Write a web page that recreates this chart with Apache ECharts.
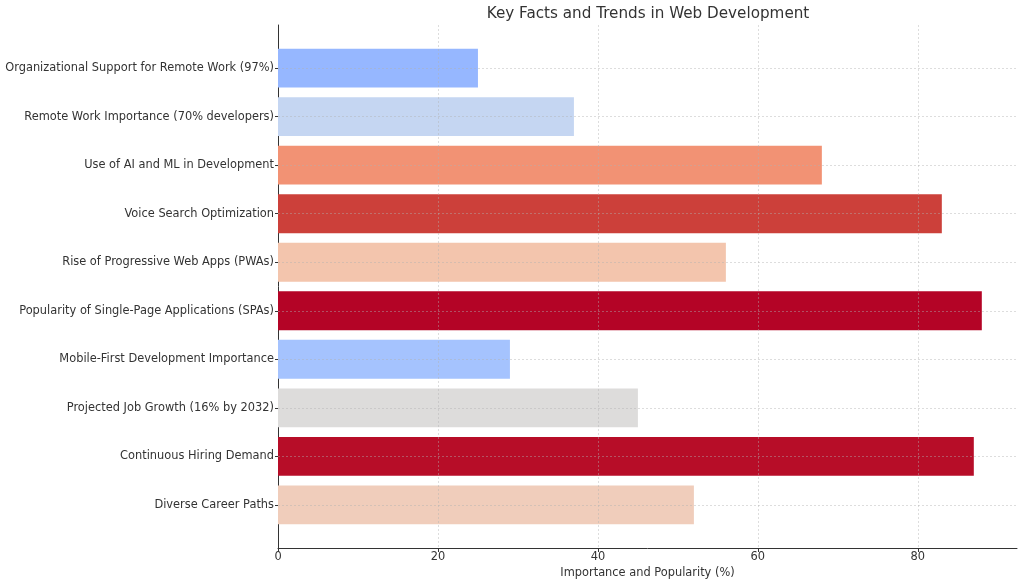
<!DOCTYPE html>
<html>
<head>
<meta charset="utf-8">
<script src="https://cdn.jsdelivr.net/npm/echarts@6/dist/echarts.min.js"></script>
<style>
  html, body { margin: 0; padding: 0; background: #ffffff; }
  #chart { width: 1024px; height: 585px; }
</style>
</head>
<body>
<div id="chart"></div>
<script>
const categories = [
  "Organizational Support for Remote Work (97%)",
  "Remote Work Importance (70% developers)",
  "Use of AI and ML in Development",
  "Voice Search Optimization",
  "Rise of Progressive Web Apps (PWAs)",
  "Popularity of Single-Page Applications (SPAs)",
  "Mobile-First Development Importance",
  "Projected Job Growth (16% by 2032)",
  "Continuous Hiring Demand",
  "Diverse Career Paths"
];
const values = [25, 37, 68, 83, 56, 88, 29, 45, 87, 52];
const barColors = [
  "#96b7ff", "#c5d6f2", "#f29274", "#cc403a", "#f3c5ad",
  "#b40426", "#a5c3fe", "#dddcdb", "#b70d28", "#f0cdbb"
];
const xTicks = [0, 20, 40, 60, 80];
const catIndex = categories.map((c, i) => i);

const chart = echarts.init(document.getElementById('chart'));
const font = "DejaVu Sans";
const textColor = "#333333";

const gridLineStyle = { color: '#b0b0b0', width: 0.8, type: [2, 2], opacity: 0.55 };

chart.setOption({
  animation: false,
  backgroundColor: '#ffffff',
  title: {
    text: "Key Facts and Trends in Web Development",
    left: 643,
    top: 2,
    textAlign: 'center',
    textStyle: { fontFamily: font, fontSize: 15.2, fontWeight: 'normal', color: textColor }
  },
  grid: { left: 278, right: 7, top: 25, bottom: 37, containLabel: false, outerBoundsMode: 'none' },
  xAxis: {
    type: 'value',
    min: 0,
    max: 92.4,
    interval: 20,
    name: "Importance and Popularity (%)",
    nameLocation: 'middle',
    nameGap: 20,
    nameTextStyle: { fontFamily: font, fontSize: 11.4, color: textColor },
    axisLine: { show: true, onZero: false, lineStyle: { color: '#333333', width: 1 } },
    axisTick: { show: true, length: 4, lineStyle: { color: '#333333' }, customValues: xTicks },
    axisLabel: { fontFamily: font, fontSize: 11.4, color: textColor, margin: 4, customValues: xTicks },
    splitLine: { show: false }
  },
  yAxis: {
    type: 'value',
    min: -0.89,
    max: 9.89,
    inverse: true,
    axisLine: { show: true, onZero: false, lineStyle: { color: '#333333', width: 1 } },
    axisTick: { show: true, length: 3, lineStyle: { color: '#333333' }, customValues: catIndex },
    axisLabel: {
      fontFamily: font, fontSize: 11.4, color: textColor, margin: 4,
      customValues: catIndex,
      formatter: function (v) { return categories[Math.round(v)] || ''; }
    },
    splitLine: { show: false }
  },
  series: [{
    type: 'custom',
    data: values.map((v, i) => [v, i]),
    renderItem: function (params, api) {
      const v = api.value(0);
      const i = api.value(1);
      const p0 = api.coord([0, i - 0.4]);
      const p1 = api.coord([v, i + 0.4]);
      return {
        type: 'rect',
        shape: { x: p0[0], y: Math.min(p0[1], p1[1]), width: p1[0] - p0[0], height: Math.abs(p1[1] - p0[1]) },
        style: { fill: barColors[i] }
      };
    },
    encode: { x: 0, y: 1 },
    markLine: {
      silent: true,
      symbol: 'none',
      z: 10,
      label: { show: false },
      lineStyle: gridLineStyle,
      data: xTicks.filter(t => t > 0).map(t => ({ xAxis: t }))
        .concat(catIndex.map(i => ({ yAxis: i })))
    }
  }]
});
</script>
</body>
</html>
